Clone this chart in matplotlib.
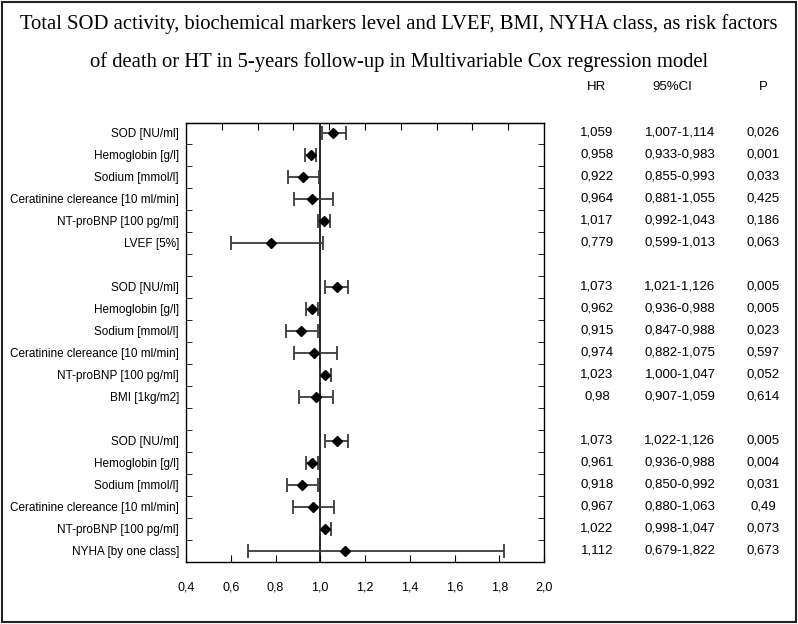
import matplotlib.pyplot as plt
from matplotlib.patches import Rectangle
from matplotlib.ticker import FixedLocator, NullFormatter

# datos del modelo de Cox (tres bloques, fila vacia entre bloques)
labels = ["SOD [NU/ml]", "Hemoglobin [g/l]", "Sodium [mmol/l]",
          "Ceratinine clereance [10 ml/min]", "NT-proBNP [100 pg/ml]", "LVEF [5%]", "",
          "SOD [NU/ml]", "Hemoglobin [g/l]", "Sodium [mmol/l]",
          "Ceratinine clereance [10 ml/min]", "NT-proBNP [100 pg/ml]", "BMI [1kg/m2]", "",
          "SOD [NU/ml]", "Hemoglobin [g/l]", "Sodium [mmol/l]",
          "Ceratinine clereance [10 ml/min]", "NT-proBNP [100 pg/ml]", "NYHA [by one class]"]
hr_txt = ["1,059", "0,958", "0,922", "0,964", "1,017", "0,779", "",
          "1,073", "0,962", "0,915", "0,974", "1,023", "0,98", "",
          "1,073", "0,961", "0,918", "0,967", "1,022", "1,112"]
ci_txt = ["1,007-1,114", "0,933-0,983", "0,855-0,993", "0,881-1,055", "0,992-1,043", "0,599-1,013", "",
          "1,021-1,126", "0,936-0,988", "0,847-0,988", "0,882-1,075", "1,000-1,047", "0,907-1,059", "",
          "1,022-1,126", "0,936-0,988", "0,850-0,992", "0,880-1,063", "0,998-1,047", "0,679-1,822"]
p_txt = ["0,026", "0,001", "0,033", "0,425", "0,186", "0,063", "",
         "0,005", "0,005", "0,023", "0,597", "0,052", "0,614", "",
         "0,005", "0,004", "0,031", "0,49", "0,073", "0,673"]
xtick_vals = [0.4, 0.6, 0.8, 1.0, 1.2, 1.4, 1.6, 1.8, 2.0]


def num(s):
    return float(s.replace(",", "."))


plt.rcParams['font.family'] = ['Liberation Sans', 'DejaVu Sans']

fig = plt.figure(figsize=(7.98, 6.24), dpi=100)
fig.patches.append(Rectangle((0.002, 0.003), 0.995, 0.994, transform=fig.transFigure,
                             fill=False, edgecolor="#222222", linewidth=1.5))

ax = fig.add_axes([186 / 798, 1 - 562 / 624, 358 / 798, 439 / 624])

rows = [i for i, h in enumerate(hr_txt) if h != ""]
hr = [num(hr_txt[i]) for i in rows]
lo = [num(ci_txt[i].split("-")[0]) for i in rows]
hi = [num(ci_txt[i].split("-")[1]) for i in rows]
err = [[h - l for h, l in zip(hr, lo)], [u - h for h, u in zip(hr, hi)]]

ax.axvline(1.0, color="black", lw=1.2, zorder=1)
ax.errorbar(hr, rows, xerr=err, fmt="D", color="black", ecolor="#3a3a3a",
            ms=5, elinewidth=1.3, capsize=5, capthick=1.3, zorder=3)

ax.set_xlim(0.4, 2.0)
ax.set_ylim(19.5, -0.45)

# eje x: etiquetas abajo cada 0.2, marcas arriba en 10 divisiones iguales
ax.set_xticks(xtick_vals)
ax.set_xticklabels([f"{v:.1f}".replace(".", ",") for v in xtick_vals], fontsize=9)
ax.tick_params(axis="x", direction="in", length=5, pad=14, top=False)
sec = ax.secondary_xaxis("top")
sec.set_xticks([0.4 + 0.16 * k for k in range(1, 10)])
sec.xaxis.set_major_formatter(NullFormatter())
sec.tick_params(direction="in", length=5)

# eje y: etiquetas en filas, marcas entre filas
ax.set_yticks(range(len(labels)))
ax.set_yticklabels(labels, fontsize=8.5)
ax.yaxis.set_minor_locator(FixedLocator([i + 0.5 for i in range(19)]))
ax.tick_params(axis="y", which="major", length=0, pad=5)
ax.tick_params(axis="y", which="minor", direction="in", length=4, right=True)

for sp in ax.spines.values():
    sp.set_linewidth(1.0)

# tabla de la derecha
for txt, xf in [("HR", 597), ("95%CI", 672), ("P", 763)]:
    fig.text(xf / 798, 1 - 87 / 624, txt, ha="center", va="center", fontsize=9.5)
for i in rows:
    y = fig.transFigure.inverted().transform(ax.transData.transform((1.0, i)))[1]
    fig.text(597 / 798, y, hr_txt[i], ha="center", va="center", fontsize=9.5)
    fig.text(680 / 798, y, ci_txt[i], ha="center", va="center", fontsize=9.5)
    fig.text(763 / 798, y, p_txt[i], ha="center", va="center", fontsize=9.5)

fig.text(0.5, 1 - 24 / 624, "Total SOD activity, biochemical markers level and LVEF, BMI, NYHA class, as risk factors",
         ha="center", va="center", family="Liberation Serif", fontsize=14.9)
fig.text(0.5, 1 - 62 / 624, "of death or HT in 5-years follow-up in Multivariable Cox regression model",
         ha="center", va="center", family="Liberation Serif", fontsize=14.9)

fig.savefig("out.png", dpi=100)
